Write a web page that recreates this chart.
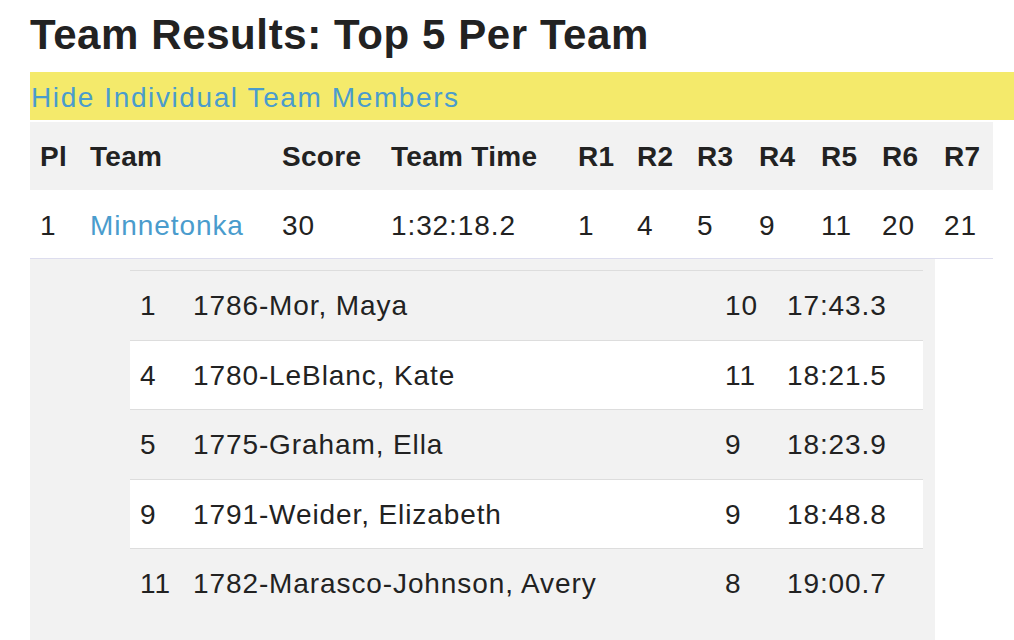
<!DOCTYPE html><html><head><meta charset="utf-8">
<script src="https://cdn.jsdelivr.net/npm/chart.js@4.4.1/dist/chart.umd.min.js"></script>
<style>
body{margin:0;width:1014px;height:640px;overflow:hidden;background:#fff;font-family:"Liberation Sans",Arial,sans-serif;color:#222;position:relative}
.a{position:absolute;white-space:nowrap;font-size:28px;line-height:1;letter-spacing:0.9px}
</style></head><body>
<div id="root"></div>
<script>
const title="Team Results: Top 5 Per Team";
const linkText="Hide Individual Team Members";
const headers=["Pl","Team","Score","Team Time","R1","R2","R3","R4","R5","R6","R7"];
const teamRow=["1","Minnetonka","30","1:32:18.2","1","4","5","9","11","20","21"];
const places=["1","4","5","9","11"];
const names=["1786-Mor, Maya","1780-LeBlanc, Kate","1775-Graham, Ella","1791-Weider, Elizabeth","1782-Marasco-Johnson, Avery"];
const grades=["10","11","9","9","8"];
const times=["17:43.3","18:21.5","18:23.9","18:48.8","19:00.7"];

const root=document.getElementById('root');
function box(x,y,w,h,bg,extra){const d=document.createElement('div');d.style.cssText=`position:absolute;left:${x}px;top:${y}px;width:${w}px;height:${h}px;background:${bg};${extra||''}`;root.appendChild(d);}
function txt(s,x,y,extra){const d=document.createElement('div');d.className='a';d.textContent=s;d.style.cssText+=`left:${x}px;top:${y}px;${extra||''}`;root.appendChild(d);}
txt(title,30,14,'font-size:42px;font-weight:bold;letter-spacing:0.6px');
box(30,72,984,48,'#f4ea6b');
txt(linkText,31,84,'color:#4a9ccd;letter-spacing:1.6px');
box(30,122,963,68,'#f2f2f2','border-bottom:1px solid #dde');
const hx=[40,90,282,391,578,637,697,759,821,882,944];
headers.forEach((h,i)=>txt(h,hx[i],143,'font-weight:bold;letter-spacing:0.3px'));
box(30,190,963,68,'#fff','border-bottom:1px solid #dde');
teamRow.forEach((h,i)=>txt(h,hx[i],212,i==1?'color:#4a9ccd':''));
box(30,259,905,381,'#f2f2f2');
for(let i=0;i<5;i++){
  const y=270+i*69.5;
  box(130,y,793,69,i%2?'#fff':'#f2f2f2','border-top:1px solid #ddd');
  txt(places[i],140,y+22);txt(names[i],193,y+22);txt(grades[i],725,y+22);txt(times[i],787,y+22);
}
</script></body></html>
